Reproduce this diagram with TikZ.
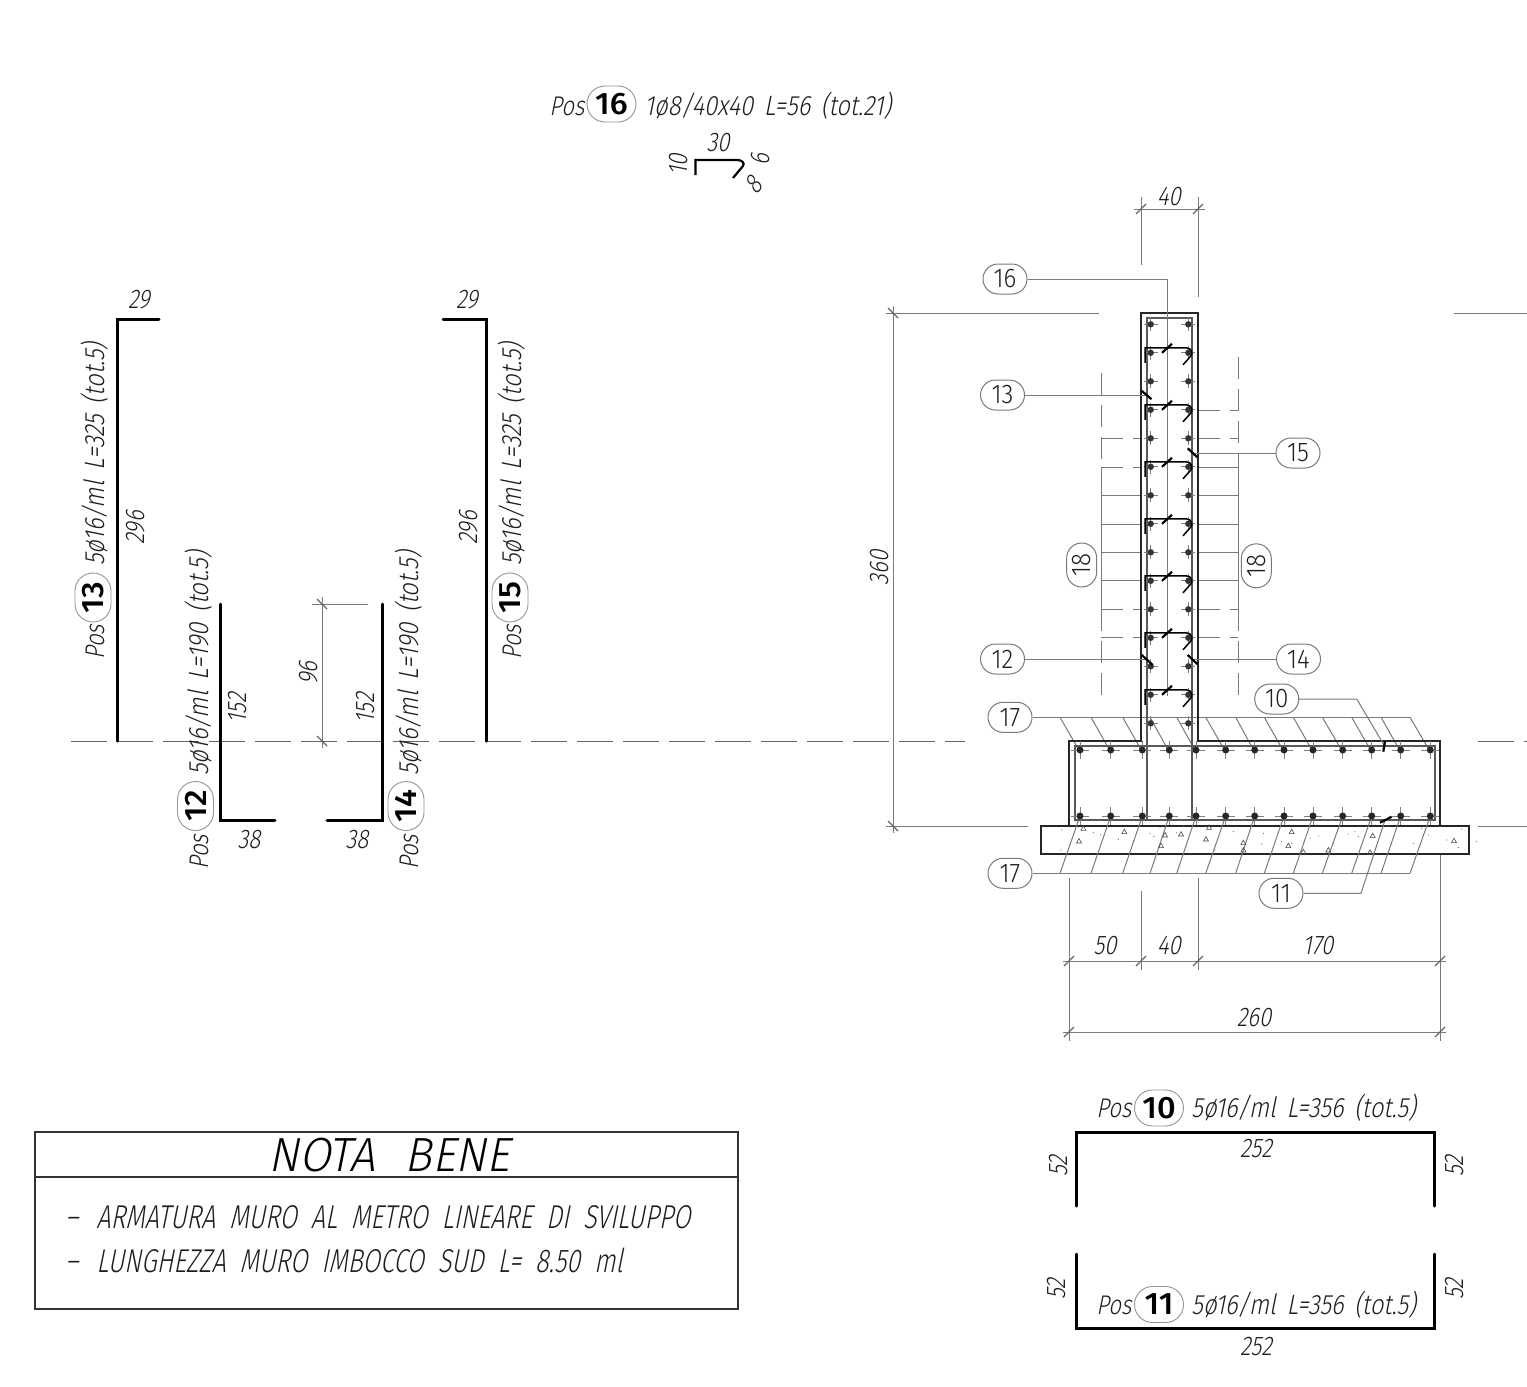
\documentclass[tikz,border=0pt]{standalone}
\usepackage{fontspec}
\setmainfont{Fira Sans Light}[FakeSlant=.2,FakeStretch=.82]
\newfontfamily\longfam{Fira Sans Light}[FakeSlant=.2,FakeStretch=.85,WordSpace=1.6]
\newfontfamily\titlefam{Fira Sans Light}[FakeSlant=.2,FakeStretch=.95,WordSpace=1.5]
\newfontfamily\notefam{Fira Sans Light}[FakeSlant=.2,FakeStretch=.76,WordSpace=2]
\newfontfamily\pilllight{Fira Sans Light}[FakeStretch=.9]
\newfontfamily\pillbold{Fira Sans Medium}[FakeStretch=1.05]
\usetikzlibrary{shapes.misc}
\definecolor{ink}{HTML}{1E1E1E}
\definecolor{thingrey}{HTML}{7A7A7A}
\tikzset{
  lab/.style={font=\fontsize{13.5}{13.5}\selectfont,text=ink,inner sep=0pt},
  longlab/.style={font=\longfam\fontsize{14}{14}\selectfont,text=ink,inner sep=0pt},
  bigtitle/.style={font=\titlefam\fontsize{24}{24}\selectfont,text=black,inner sep=0pt},
  notetext/.style={font=\notefam\fontsize{16.5}{16.5}\selectfont,text=ink,inner sep=0pt,anchor=west},
  pill/.style={rounded rectangle,draw=thingrey,line width=.5pt,fill=white,minimum width=22pt,minimum height=15pt,inner sep=0pt,font=\pilllight\fontsize{13.5}{13.5}\selectfont,text=ink},
  pillb/.style={rounded rectangle,draw=thingrey!80,line width=.45pt,fill=white,minimum width=24.5pt,minimum height=18pt,inner sep=0pt,font=\pillbold\fontsize{15.5}{15.5}\selectfont,text=black},
  barline/.style={line width=1.5pt,black,line cap=round},
  outline/.style={line width=.8pt,black!85},
  rebar/.style={line width=.65pt,black!65},
  thinl/.style={line width=.5pt,thingrey},
  dashl/.style={line width=.5pt,thingrey,dash pattern=on 11pt off 5pt},
  centre/.style={line width=.45pt,black!60,dash pattern=on 18pt off 5pt},
  tickm/.style={line width=1.1pt,black},
  dimtick/.style={line width=.6pt,black!60},
  crossl/.style={line width=.35pt,black!50}
}
\begin{document}
\begin{tikzpicture}[x=.5pt,y=-.5pt]
\useasboundingbox[fill=white] (0,0) rectangle (1527,1387);

% ---- centre line and level lines
\draw[centre] (71,741) -- (965,741);
\draw[centre] (1478,741) -- (1527,741);
\draw[thinl] (886,313) -- (1099,313);
\draw[thinl] (1454,313) -- (1527,313);
\draw[thinl] (886,826) -- (1028,826);
\draw[thinl] (1478,826) -- (1527,826);

% ---- Pos 16
\node[lab,anchor=west] (p16a) at (549,106) {Pos};
\node[pillb] (p16b) at (611.5,104) {16};
\node[longlab,anchor=west] (p16c) at (644,106) {1ø8/40x40 L=56 (tot.21)};
\draw[line width=1.1pt,black] (695.5,175) -- (695.5,160) -- (737,160) .. controls (742,160) and (745,163) .. (743,166) -- (733,178);
\node[lab] (d30) at (718,143) {30};
\node[lab,rotate=90] (d10) at (679,165) {10};
\node[lab,rotate=90] (d9) at (761,160) {6};
\node[lab,rotate=50] (d8) at (753,185) {8};

% ---- left bars
\draw[barline] (117,741) -- (117,319) -- (159,319);
\node[lab] (l29a) at (139,300) {29};
\node[lab,rotate=90] (l296a) at (136,528) {296};
\node[lab,rotate=90,anchor=west] (p13a) at (95,660) {Pos};
\node[pillb,rotate=90] (p13b) at (93,597.5) {13};
\node[longlab,rotate=90,anchor=west] (p13c) at (95,566) {5ø16/ml L=325 (tot.5)};

\draw[barline] (220,604) -- (220,820) -- (275,820);
\node[lab,rotate=90] (l152a) at (238,708) {152};
\node[lab] (l38a) at (249,840) {38};
\node[lab,rotate=90,anchor=west] (p12a) at (199,870) {Pos};
\node[pillb,rotate=90] (p12b) at (195.5,806) {12};
\node[longlab,rotate=90,anchor=west] (p12c) at (199,776) {5ø16/ml L=190 (tot.5)};

\draw[barline] (382,604) -- (382,820) -- (327,820);
\node[lab,rotate=90] (l152b) at (366,708) {152};
\node[lab] (l38b) at (357,840) {38};
\node[lab,rotate=90,anchor=west] (p14a) at (409,870) {Pos};
\node[pillb,rotate=90] (p14b) at (406,806) {14};
\node[longlab,rotate=90,anchor=west] (p14c) at (409,776) {5ø16/ml L=190 (tot.5)};

\draw[barline] (443,319) -- (486,319) -- (486,741);
\node[lab] (l29b) at (467,300) {29};
\node[lab,rotate=90] (l296b) at (469,528) {296};
\node[lab,rotate=90,anchor=west] (p15a) at (512,660) {Pos};
\node[pillb,rotate=90] (p15b) at (510,597.5) {15};
\node[longlab,rotate=90,anchor=west] (p15c) at (512,566) {5ø16/ml L=325 (tot.5)};

% dim 96
\draw[thinl] (312,604) -- (368,604);
\draw[thinl] (322,597) -- (322,748);
\foreach \y in {604,741} \draw[dimtick] (317,\y-5) -- (327,\y+5);
\node[lab,rotate=90] (l96) at (309,673) {96};

% ---- note box
\draw[line width=.7pt,black!80] (35,1132) rectangle (738,1309);
\draw[line width=.7pt,black!80] (35,1177) -- (738,1177);
\node[bigtitle] (nb) at (389,1155) {NOTA\hspace{15pt}BENE};
\node[notetext] (n1) at (65,1217) {–\hspace{9pt}ARMATURA\ MURO\ AL\ METRO\ LINEARE\ DI\ SVILUPPO};
\node[notetext] (n2) at (65,1260) {–\hspace{9pt}LUNGHEZZA\ MURO\ IMBOCCO\ SUD\ L=\ 8.50\ ml};

% ---- bars 10 / 11
\node[lab,anchor=west] (p10a) at (1096,1108) {Pos};
\node[pillb] (p10b) at (1159,1108) {10};
\node[longlab,anchor=west] (p10c) at (1191,1108) {5ø16/ml L=356 (tot.5)};
\draw[barline] (1076,1206) -- (1076,1132) -- (1434,1132) -- (1434,1206);
\node[lab,rotate=90] (l52a) at (1059,1166) {52};
\node[lab,rotate=90] (l52b) at (1455,1166) {52};
\node[lab] (l252a) at (1256,1149) {252};

\node[lab,anchor=west] (p11a) at (1096,1305) {Pos};
\node[pillb] (p11b) at (1159,1304.5) {11};
\node[longlab,anchor=west] (p11c) at (1191,1305) {5ø16/ml L=356 (tot.5)};
\draw[barline] (1076,1254) -- (1076,1328) -- (1434,1328) -- (1434,1254);
\node[lab,rotate=90] (l52c) at (1057,1289) {52};
\node[lab,rotate=90] (l52d) at (1455,1289) {52};
\node[lab] (l252b) at (1256,1347) {252};

% ---- dimensions of the section
\draw[thinl] (1141,197) -- (1141,265);
\draw[thinl] (1198,197) -- (1198,297);
\draw[thinl] (1134,209) -- (1205,209);
\foreach \x in {1141,1198} \draw[dimtick] (\x-5,214) -- (\x+5,204);
\node[lab] (d40t) at (1169,197) {40};

\draw[thinl] (893,306) -- (893,833);
\foreach \y in {313,826} \draw[dimtick] (888,\y-5) -- (898,\y+5);
\node[lab,rotate=90] (d360) at (880,568) {360};

\draw[thinl] (1069,878) -- (1069,1041);
\draw[thinl] (1141,891) -- (1141,970);
\draw[thinl] (1198,878) -- (1198,970);
\draw[thinl] (1440,741) -- (1440,1041);
\draw[thinl] (1063,961) -- (1446,961);
\draw[thinl] (1063,1032) -- (1446,1032);
\foreach \x in {1069,1141,1198,1440} \draw[dimtick] (\x-5,966) -- (\x+5,956);
\foreach \x in {1069,1440} \draw[dimtick] (\x-5,1037) -- (\x+5,1027);
\node[lab] (d50) at (1105,946) {50};
\node[lab] (d40b) at (1169,946) {40};
\node[lab] (d170) at (1318,946) {170};
\node[lab] (d260) at (1254,1018) {260};

% ---- horizontal wall bars (pos 18)
\draw[dashl] (1101,373) -- (1101,467);
\draw[thinl] (1101,467) -- (1101,609);
\draw[dashl] (1101,609) -- (1101,703);
\draw[dashl] (1238,357) -- (1238,467);
\draw[thinl] (1238,467) -- (1238,609);
\draw[dashl] (1238,609) -- (1238,703);
\draw[dashl] (1198,410) -- (1238,410);
\foreach \y in {438.7,609.3,637.7} {\draw[dashl] (1101,\y) -- (1141,\y); \draw[dashl] (1198,\y) -- (1238,\y);}
\draw[dashl] (1101,467) -- (1141,467);
\draw[thinl] (1198,467) -- (1238,467);
\foreach \y in {495.3,524,552.3,580.7} {\draw[thinl] (1101,\y) -- (1141,\y); \draw[thinl] (1198,\y) -- (1238,\y);}
\node[pill,rotate=90] (c18a) at (1081.7,565) {18};
\node[pill,rotate=90] (c18b) at (1256.3,565.8) {18};

% ---- 17 hatching
\node[pill] (c17t) at (1010,717.3) {17};
\node[pill] (c17b) at (1010,873.3) {17};
\coordinate (e17t) at (1410,717.3);
\coordinate (e17b) at (1410,873.3);
\draw[thinl] (c17t.east) -- (e17t);
\draw[thinl] (c17b.east) -- (e17b);
\foreach \s/\d in {1060/1080,1091/1110.7,1122.7/1142.3,1150/1169.3,1176.7/1196,1205.7/1225.7,1235.7/1254.7,1264.3/1284,1293.3/1313,1322.3/1342.7,1351.7/1371.7,1381/1400.7,1410/1430.3} {
  \draw[thinl] (\s,717.3) -- (\d,752);
}

% ---- lean concrete
\draw[outline,fill=white] (1041,826) rectangle (1469,854);
\foreach \s/\d in {1060/1080,1091/1110.7,1122.7/1142.3,1150/1169.3,1176.7/1196,1205.7/1225.7,1235.7/1254.7,1264.3/1284,1293.3/1313,1322.3/1342.7,1351.7/1371.7,1381/1400.7,1410/1430.3}
  \draw[thinl] (\s,873.3) -- (\d,816);
\foreach \x/\y in {310/445,433/455,555/465,603/462,543/497,678/477,790/488,790/510,925/497,935/455,970/515,1045/510,1178/467,1170/517,1422/482,297/483,687/442}
  \draw[line width=.3pt,black!70] ({980+\x/3-2.5},{680+\y/3+2}) -- ({980+\x/3+2.5},{680+\y/3+2}) -- ({980+\x/3},{680+\y/3-2.5}) -- cycle;
\foreach \x/\y in {245/450,243/510,340/458,362/465,415/478,460/482,510/460,522/470,590/458,630/520,705/510,760/455,850/460,845/492,905/485,935/490,990/475,1015/468,1060/490,1105/462,1125/455,1135/470,1225/440,1235/492,1300/490,1325/445,1345/465,1400/480,1445/447,1435/503,1490/485,610/440,540/442}
  \fill[black!55] ({980+\x/3},{680+\y/3}) circle (.6);

% ---- concrete outline (wall + footing)
\draw[outline] (1069,826) -- (1069,741) -- (1141,741) -- (1141,313) -- (1198,313) -- (1198,741) -- (1440,741) -- (1440,826);
% wall cage
\draw[rebar] (1147,820) -- (1147,318) -- (1192,318) -- (1192,820);
\draw[rebar] (1147,820) -- (1192,820);
\draw[thinl] (1167,279) -- (1167,696);
% footing cage
\draw[rebar,line width=.9pt] (1075,746) rectangle (1435,820);

% ---- bars in section
\foreach \y in {324.3,352.8,381.3,409.8,438.3,466.8,495.3,523.8,552.3,580.8,609.3,637.8,666.3,694.8,723.3} {
  \foreach \x in {1150.7,1188.3} {
    \draw[crossl] (\x-7,\y) -- (\x+7,\y) (\x,\y-7) -- (\x,\y+7);
    \fill[black!80] (\x,\y) circle (3.2);
  }
}
\foreach \x in {1080,1110.7,1142.3,1169.3,1196,1225.7,1254.7,1284,1313,1342.7,1371.7,1400.7,1430.3} {
  \foreach \y in {750,816} {
    \draw[crossl] (\x-9,\y) -- (\x+9,\y) (\x,\y-9) -- (\x,\y+9);
    \fill[black!85] (\x,\y) circle (3.5);
  }
}
% stirrups
\foreach \y in {352.8,409.8,466.8,523.8,580.8,637.8,694.8} {
  \draw[line width=.75pt,black] (1145,\y+10) -- (1145,\y-5) -- (1186,\y-5) .. controls (1192,\y-5) and (1193,\y+1) .. (1191,\y+3) -- (1183,\y+12);
  \draw[tickm] (1162,\y) -- (1172,\y-9);
}

% ---- leaders
\node[pill] (c16) at (1005,279) {16};
\coordinate (t16) at (1167,279);
\draw[thinl] (c16.east) -- (t16);

\node[pill] (c13) at (1002.5,395) {13};
\coordinate (t13) at (1147,395);
\draw[thinl] (c13.east) -- (t13);
\draw[tickm] (1141.5,390.7) -- (1151.5,399.2);

\node[pill] (c15) at (1298,453) {15};
\coordinate (t15) at (1193,453);
\draw[thinl] (c15.west) -- (t15);
\draw[tickm] (1187.7,448.3) -- (1197.3,457.3);

\node[pill] (c12) at (1002.5,659) {12};
\coordinate (t12) at (1147,659);
\draw[thinl] (c12.east) -- (t12);
\draw[tickm] (1141.7,655) -- (1152.7,665);

\node[pill] (c14) at (1298.5,659) {14};
\coordinate (t14) at (1193,659);
\draw[thinl] (c14.west) -- (t14);
\draw[tickm] (1187.7,655) -- (1197.3,664);

\node[pill] (c10) at (1276.7,699) {10};
\coordinate (k10) at (1356.7,699);
\coordinate (t10) at (1384,745);
\draw[thinl] (c10.east) -- (k10) -- (t10);
\draw[tickm] (1385,741) -- (1383.3,751.7);

\node[pill] (c11) at (1281,893.3) {11};
\coordinate (k11) at (1361,893.3);
\coordinate (t11) at (1385,820);
\draw[thinl] (c11.east) -- (k11) -- (t11);
\draw[tickm] (1380,822.7) -- (1391.7,816.7);
\end{tikzpicture}
\end{document}
